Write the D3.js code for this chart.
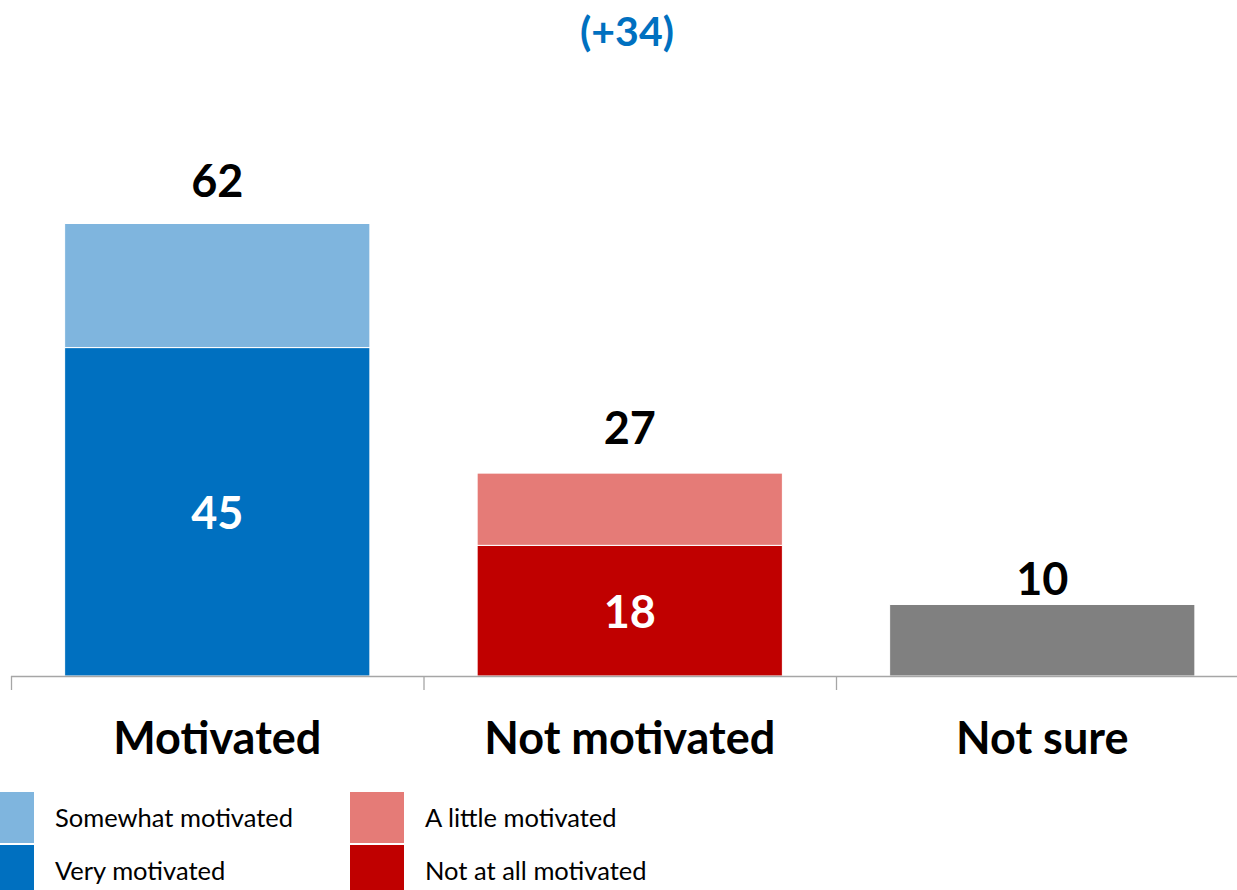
<!DOCTYPE html>
<html>
<head>
<meta charset="utf-8">
<script src="https://cdn.jsdelivr.net/npm/d3@7"></script>
<style>
  body { margin: 0; background: #fff; }
  svg { display: block; font-family: Lato, "Open Sans", sans-serif; }
</style>
</head>
<body>
<svg></svg>
<script>
// chart data
var categories = ["Motivated", "Not motivated", "Not sure"];
var bottomValues = [45, 17.9, 9.8];   // very / not at all / not sure
var topValues = [17, 9.9, 0];         // somewhat / a little
var totalLabels = ["62", "27", "10"];
var innerLabels = ["45", "18", ""];
var bottomColors = ["#0070C0", "#C00000", "#808080"];
var topColors = ["#7FB5DE", "#E57B77", "#808080"];
var legendNames = ["Somewhat motivated", "Very motivated", "A little motivated", "Not at all motivated"];
var legendColors = ["#7FB5DE", "#0070C0", "#E57B77", "#C00000"];
var headline = "(+34)";

// layout config
var config = {
  w: 1237,
  h: 890,
  base: 676,
  top: 223.5,
  left: 11,
  step: 412.5
};

var svg = d3.select("svg")
  .attr("width", config.w)
  .attr("height", config.h);

var totals = bottomValues.map(function(v, i) { return v + topValues[i]; });

var x = d3.scaleBand()
  .domain(categories)
  .range([config.left, config.left + config.step * categories.length])
  .paddingInner(0.26)
  .paddingOuter(0.13);

var y = d3.scaleLinear()
  .domain([0, d3.max(totals)])
  .range([config.base, config.top]);

var g = svg.append("g").attr("id", "plot");

// bottom segments
g.selectAll("rect.bottom")
  .data(categories)
  .enter()
  .append("rect")
    .attr("class", "bottom")
    .attr("x", function(d) { return x(d); })
    .attr("width", x.bandwidth())
    .attr("y", function(d, i) { return y(bottomValues[i]); })
    .attr("height", function(d, i) { return y(0) - y(bottomValues[i]); })
    .attr("fill", function(d, i) { return bottomColors[i]; })
    .attr("stroke", "#fff")
    .attr("stroke-width", 1);

// top segments
g.selectAll("rect.top")
  .data(categories.filter(function(d, i) { return topValues[i] > 0; }))
  .enter()
  .append("rect")
    .attr("class", "top")
    .attr("x", function(d) { return x(d); })
    .attr("width", x.bandwidth())
    .attr("y", function(d) { var i = categories.indexOf(d); return y(totals[i]); })
    .attr("height", function(d) { var i = categories.indexOf(d); return y(bottomValues[i]) - y(totals[i]); })
    .attr("fill", function(d) { return topColors[categories.indexOf(d)]; })
    .attr("stroke", "#fff")
    .attr("stroke-width", 1);

// axis line + ticks at band boundaries
g.append("line")
  .attr("x1", config.left).attr("x2", config.w)
  .attr("y1", config.base + 0.5).attr("y2", config.base + 0.5)
  .attr("stroke", "#A6A6A6").attr("stroke-width", 1.3);

g.selectAll("line.tick")
  .data(d3.range(categories.length + 1))
  .enter()
  .append("line")
    .attr("class", "tick")
    .attr("x1", function(i) { return x.range()[0] + i * x.step() + 0.5; })
    .attr("x2", function(i) { return x.range()[0] + i * x.step() + 0.5; })
    .attr("y1", config.base).attr("y2", config.base + 14)
    .attr("stroke", "#A6A6A6").attr("stroke-width", 1.3);

// category labels
g.selectAll("text.cat")
  .data(categories)
  .enter()
  .append("text")
    .attr("class", "cat")
    .attr("x", function(d) { return x(d) + x.bandwidth() / 2; })
    .attr("y", 754)
    .attr("text-anchor", "middle")
    .style("font-size", "45px")
    .style("font-weight", "bold")
    .text(function(d) { return d; });

// total labels above bars
var labelGap = [27, 29, 9];
g.selectAll("text.total")
  .data(categories)
  .enter()
  .append("text")
    .attr("class", "total")
    .attr("x", function(d) { return x(d) + x.bandwidth() / 2; })
    .attr("y", function(d, i) { return y(totals[i]) - labelGap[i]; })
    .attr("text-anchor", "middle")
    .style("font-size", "45px")
    .style("font-weight", "bold")
    .text(function(d, i) { return totalLabels[i]; });

// inner labels
g.selectAll("text.inner")
  .data(categories)
  .enter()
  .append("text")
    .attr("class", "inner")
    .attr("x", function(d) { return x(d) + x.bandwidth() / 2; })
    .attr("y", function(d, i) { return (y(0) + y(bottomValues[i])) / 2; })
    .attr("dy", "0.38em")
    .attr("text-anchor", "middle")
    .attr("fill", "#fff")
    .style("font-size", "45px")
    .style("font-weight", "bold")
    .text(function(d, i) { return innerLabels[i]; });

// headline
svg.append("text")
  .attr("x", 627)
  .attr("y", 46)
  .attr("text-anchor", "middle")
  .attr("fill", "#0070C0")
  .style("font-size", "41px")
  .style("font-weight", "bold")
  .text(headline);

// legend, two columns
var leg = svg.append("g").attr("id", "legend");
var items = leg.selectAll("g.item")
  .data(legendNames)
  .enter()
  .append("g")
    .attr("class", "item")
    .attr("transform", function(d, i) {
      var col = Math.floor(i / 2), row = i % 2;
      return "translate(" + (col * 370) + "," + (792 + row * 53) + ")";
    });

items.append("rect")
  .attr("x", -20)
  .attr("width", 54)
  .attr("height", 51)
  .attr("fill", function(d, i) { return legendColors[i]; });

items.append("text")
  .attr("x", 55)
  .attr("y", 35)
  .style("font-size", "25.5px")
  .attr("fill", "#000")
  .text(function(d) { return d; });
</script>
</body>
</html>
